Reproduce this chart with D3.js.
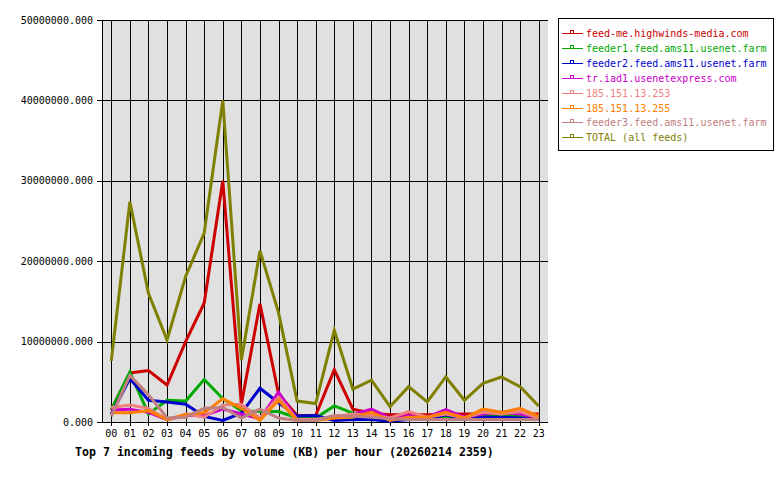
<!DOCTYPE html>
<html><head><meta charset="utf-8">
<script src="https://cdn.jsdelivr.net/npm/d3@7"></script>
<style>body{margin:0;background:#fff}svg{display:block}text{font-family:"DejaVu Sans Mono",monospace}</style>
</head><body><svg id="c" width="780" height="480"></svg>
<script>
const hours = ["00","01","02","03","04","05","06","07","08","09","10","11","12","13","14","15","16","17","18","19","20","21","22","23"];
const yTicks = [0,10000000,20000000,30000000,40000000,50000000];
const seriesNames = ["feed-me.highwinds-media.com","feeder1.feed.ams11.usenet.farm","feeder2.feed.ams11.usenet.farm","tr.iad1.usenetexpress.com","185.151.13.253","185.151.13.255","feeder3.feed.ams11.usenet.farm","TOTAL (all feeds)"];
const seriesColors = ["#cc0000","#00aa00","#0000cc","#cc00cc","#f08080","#ff8000","#c08080","#808000"];
const M = 1e6;
const feedMe   = [1.5,6.1,6.4,4.6,10.0,14.8,30.0,2.2,14.7,3.5,0.8,0.8,6.5,1.6,1.1,0.9,0.9,0.9,1.0,1.0,1.0,1.0,1.0,1.0].map(v=>v*M);
const feeder1  = [1.5,6.2,1.0,2.7,2.6,5.3,2.9,1.4,1.3,1.3,0.5,0.5,2.0,1.1,0.5,0.4,0.5,0.5,0.6,0.5,0.7,0.7,0.7,0.4].map(v=>v*M);
const feeder2  = [1.0,5.4,2.7,2.5,2.2,0.7,0.2,1.1,4.2,2.4,0.75,0.8,0.2,0.3,0.3,0.1,0.3,0.3,0.9,0.3,0.6,0.6,0.5,0.3].map(v=>v*M);
const trIad1   = [1.5,1.6,1.2,0.3,0.8,0.8,1.6,1.0,0.4,3.7,0.3,0.3,0.5,0.9,1.6,0.5,0.8,0.6,1.55,0.6,1.0,1.2,1.0,0.5].map(v=>v*M);
const ip253    = [1.8,2.1,1.7,0.3,1.0,0.6,2.1,2.2,0.5,3.1,0.3,0.3,0.7,1.0,0.8,0.5,1.3,0.6,1.0,0.5,1.2,1.0,1.3,0.5].map(v=>v*M);
const ip255    = [1.15,1.15,1.4,0.3,0.9,1.15,2.9,1.7,0.2,2.7,0.2,0.2,0.5,0.6,1.2,0.2,0.6,0.6,1.2,0.5,1.6,1.2,1.7,0.7].map(v=>v*M);
const feeder3  = [0.7,5.8,3.4,0.5,0.6,1.7,1.8,0.5,1.6,0.5,0.2,0.2,0.8,0.7,0.6,0.4,0.3,0.3,0.3,0.3,0.3,0.3,0.3,0.3].map(v=>v*M);
const total    = [7.6,27.4,16.0,10.2,18.1,23.5,40.0,7.7,21.3,13.6,2.6,2.3,11.4,4.1,5.2,1.9,4.4,2.5,5.6,2.7,4.8,5.6,4.4,2.0].map(v=>v*M);
const seriesValues = [feedMe,feeder1,feeder2,trIad1,ip253,ip255,feeder3,total];
const title = "Top 7 incoming feeds by volume (KB) per hour (20260214 2359)";

const svg = d3.select("#c");
const L=102, R=548, T=20, B=422;
const x = d3.scaleBand().domain(hours).range([L,R]);
const xc = h => x(h) + x.bandwidth()/2;
const y = d3.scaleLinear().domain([0,50000000]).range([B,T]);

svg.append("rect").attr("x",L).attr("y",T).attr("width",R-L).attr("height",B-T).attr("fill","#e0e0e0");

const g = svg.append("g").attr("shape-rendering","crispEdges");
g.selectAll(".vg").data(hours).join("line")
  .attr("x1",d=>Math.round(xc(d))+0.5).attr("x2",d=>Math.round(xc(d))+0.5)
  .attr("y1",T).attr("y2",B+4).attr("stroke","#000");
g.selectAll(".hg").data(yTicks).join("line")
  .attr("x1",L-5).attr("x2",R).attr("y1",d=>Math.round(y(d))+0.5).attr("y2",d=>Math.round(y(d))+0.5).attr("stroke","#000");
g.append("line").attr("x1",L+0.5).attr("x2",L+0.5).attr("y1",T).attr("y2",B+1).attr("stroke","#000");

svg.selectAll(".yl").data(yTicks).join("text")
  .attr("x",93).attr("y",d=>y(d)+3.5).attr("text-anchor","end").attr("font-size",10).attr("fill","#000")
  .text(d=>d3.format(".3f")(d));
svg.selectAll(".xl").data(hours).join("text")
  .attr("x",d=>xc(d)).attr("y",437).attr("text-anchor","middle").attr("font-size",10).attr("fill","#000")
  .text(d=>d);

const line = d3.line().x((d,i)=>xc(hours[i])).y(d=>y(d));
svg.append("g").selectAll("path").data(seriesValues).join("path")
  .attr("d",d=>line(d)).attr("fill","none")
  .attr("stroke",(d,i)=>seriesColors[i]).attr("stroke-width",3).attr("stroke-linejoin","miter");

const lg = svg.append("g");
lg.append("rect").attr("x",558.5).attr("y",18.5).attr("width",215).attr("height",132).attr("fill","#fff").attr("stroke","#000");
const rows = lg.selectAll(".lr").data(seriesNames).join("g").attr("transform",(d,i)=>`translate(0,${33+i*14.9})`);
rows.append("line").attr("x1",562).attr("x2",583).attr("y1",0.5).attr("y2",0.5).attr("stroke",(d,i)=>seriesColors[i]).attr("shape-rendering","crispEdges");
rows.append("rect").attr("x",570.5).attr("y",-2.5).attr("width",3).attr("height",3).attr("fill","none").attr("stroke",(d,i)=>seriesColors[i]).attr("shape-rendering","crispEdges");
rows.append("text").attr("x",586).attr("y",4).attr("font-size",10).attr("fill",(d,i)=>seriesColors[i]).text(d=>d);

svg.append("text").attr("x",75).attr("y",456).attr("font-size",11.6).attr("font-weight","bold").attr("fill","#000").text(title);
</script></body></html>
